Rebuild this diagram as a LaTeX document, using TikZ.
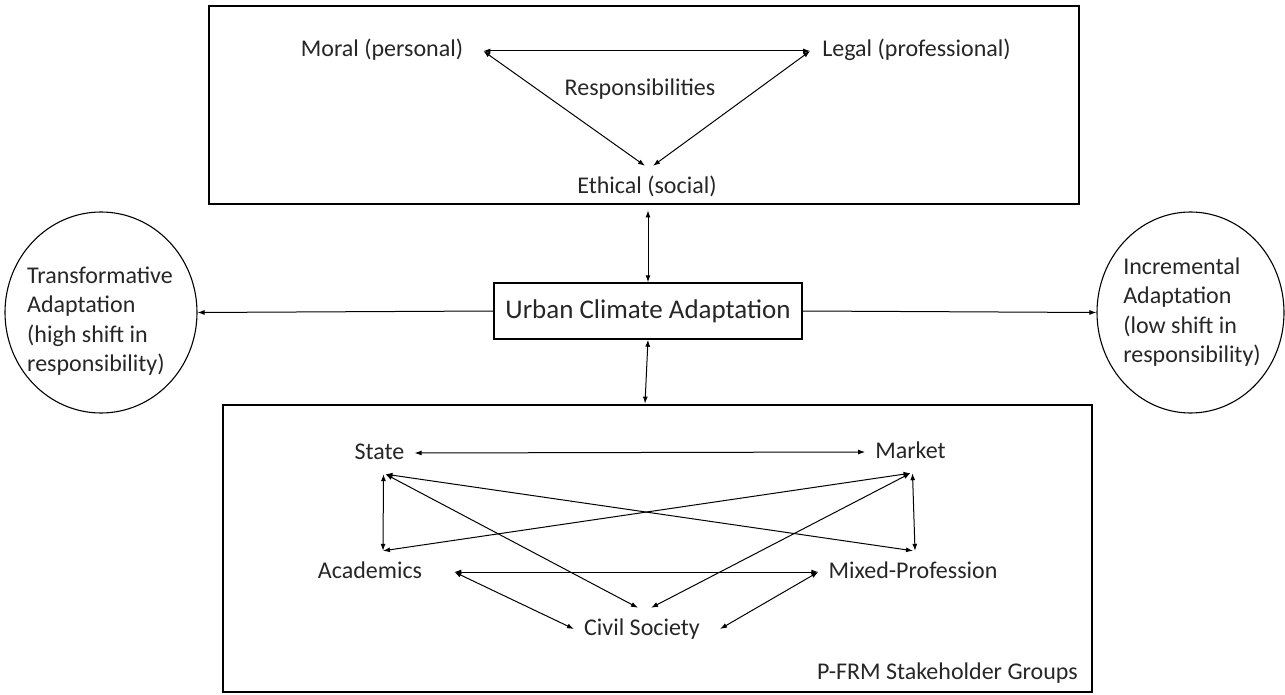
\documentclass[tikz,border=0pt]{standalone}
\usepackage{fontspec}
\setmainfont{Carlito}
\usepackage{tikz}
\usetikzlibrary{shapes.geometric, arrows.meta}
\newcommand{\txtsize}{\fontsize{24}{29.5}\selectfont}
\newcommand{\ucasize}{\fontsize{27}{32}\selectfont}
\tikzset{
  bigbox/.style = {shape=rectangle, draw, line width=2.8pt,
                   anchor=center, inner sep=0pt},
  txt/.style = {font=\txtsize, text=black!85,
                text height=18pt, text depth=6pt,
                inner xsep=10pt, inner ysep=9pt},
  ucabox/.style = {shape=rectangle, draw, line width=1.4pt,
                   minimum width=308pt, minimum height=56pt,
                   font=\ucasize, text=black!85},
  adapt/.style = {shape=ellipse, draw, line width=1.1pt, inner sep=0pt,
                  minimum height=201pt},
  adapttext/.style = {font=\txtsize, text=black!85, align=left, inner sep=0pt},
  arrow/.style = {line width=1pt, {Latex[length=7pt,width=5pt]}-{Latex[length=7pt,width=5pt]}},
  onearrow/.style = {line width=1pt, -{Latex[length=7pt,width=5pt]}}
}
\begin{document}
\begin{tikzpicture}[x=1pt, y=-1pt]
            \useasboundingbox (0,0) rectangle (1285,695);
            \node (resbox) [bigbox, minimum width=870pt, minimum height=198pt] at (644,105) {};
            \node (grpbox) [bigbox, minimum width=869pt, minimum height=287pt] at (657.5,548.5) {};
            \node (moral) [txt, inner xsep=20pt] at (382,51) {Moral (personal)};
            \node (legal) [txt, inner xsep=12pt] at (916.5,51) {Legal (professional)};
            \node (resp) [txt] at (640,90) {Responsibilities};
            \node (ethical) [txt, inner ysep=10pt] at (647,188) {Ethical (social)};
            \node (uca) [ucabox] at (648,311) {Urban Climate Adaptation};
            \node (trans) [adapt, minimum width=192pt] at (101,312.5) {};
            \node (transtxt) [adapttext] at (100,321) {Transformative\\Adaptation\\(high shift in\\responsibility)};
            \node (incr) [adapt, minimum width=187pt] at (1190.5,312.5) {};
            \node (incrtxt) [adapttext] at (1192,312) {Incremental\\Adaptation\\(low shift in\\responsibility)};
            \node (state) [txt] at (379.5,453) {State};
            \node (market) [txt] at (910.5,452) {Market};
            \node (acad) [txt] at (370,572) {Academics};
            \node (mixed) [txt] at (913,572) {Mixed-Profession};
            \node (civil) [txt] at (642,629) {Civil Society};
            \node (pfrm) [txt, anchor=east, inner sep=0pt] at (1078,673) {P-FRM Stakeholder Groups};

            \draw [arrow] (moral.east) -- (legal.west);
            \draw [arrow] (moral.east) -- ([xshift=-2pt]ethical.north);
            \draw [arrow] (legal.west) -- ([xshift=6pt]ethical.north);
            \draw [arrow, shorten <=5pt] (resbox.south -| uca.north) -- (uca.north);
            \draw [arrow] (uca.south) -- ([xshift=-3pt]uca.south |- grpbox.north);
            \draw [onearrow] (uca.west) -- (trans.east);
            \draw [onearrow] (uca.east) -- (incr.west);
            \draw [arrow] (state.east) -- (market.west);
            \draw [arrow] ([xshift=4pt]state.south) -- ([xshift=13pt]acad.north);
            \draw [arrow] ([xshift=6pt]state.south) -- (mixed.north);
            \draw [arrow] ([xshift=6pt]state.south) -- ([xshift=-4pt]civil.north);
            \draw [arrow] (market.south) -- ([xshift=13pt]acad.north);
            \draw [arrow] ([xshift=2pt]market.south) -- ([xshift=2pt]mixed.north);
            \draw [arrow] (market.south) -- ([xshift=9pt]civil.north);
            \draw [arrow] ([xshift=22pt]acad.east) -- (mixed.west);
            \draw [arrow] ([xshift=22pt]acad.east) -- (civil.west);
            \draw [arrow] (mixed.west) -- ([xshift=10pt]civil.east);
        \end{tikzpicture}
\end{document}
